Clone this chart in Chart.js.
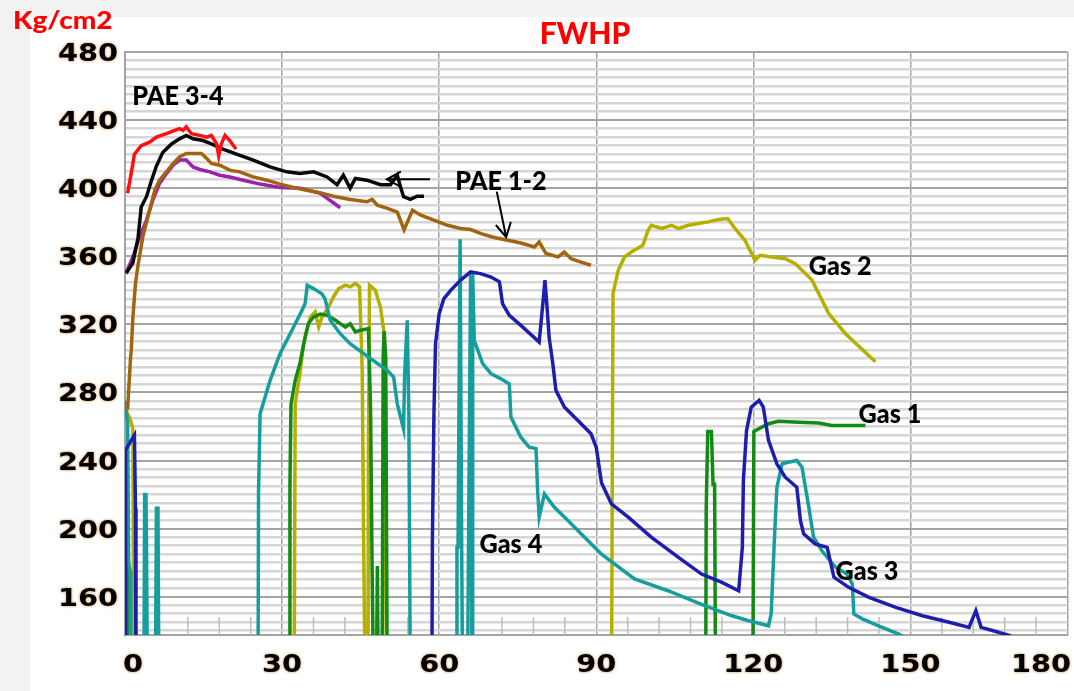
<!DOCTYPE html>
<html>
<head>
<meta charset="utf-8">
<script src="https://cdn.jsdelivr.net/npm/chart.js@4.4.0/dist/chart.umd.min.js"></script>
<style>
  html, body { margin: 0; padding: 0; background: #f2f2f2; }
  #wrap { width: 1074px; height: 691px; }
</style>
</head>
<body>
<div id="wrap"><canvas id="fwhp" width="1074" height="691"></canvas></div>
<script>
// FWHP vs time
const xTicks = [0, 30, 60, 90, 120, 150, 180];
const yTicks = [160, 200, 240, 280, 320, 360, 400, 440, 480];
const yMinorStep = 5;
const xMinorStep = 6;

// PAE wells
const pae34Red = [[0.5,397],[1.2,409],[1.8,420],[3.1,425],[4.7,427],[6,430],[7.9,432],[9.5,434],[10.4,435],[11.1,434],[11.7,436],[12.7,432],[14.3,431],[15.6,430],[16.5,431],[17.5,426],[17.9,419],[18.4,426],[19.1,431],[20,428],[21.2,423]];
const pae34Black = [[0.2,350],[1.5,356],[2.5,371],[3.1,389],[4.1,395],[5,404],[6,413],[7.2,421],[8.9,426],[10.4,429],[11.7,431],[13,429],[14.9,428],[16.5,426],[18.7,423],[21.3,420],[24.5,416.5],[27.7,412.5],[30.9,409.6],[33.4,408.6],[36,409.6],[38.6,406.6],[40.5,402],[41.7,407.6],[43,400],[44,405.7],[46.2,404.7],[48.8,402],[50.7,402],[52,407.6],[52.6,401],[53.2,395],[54.5,393.4],[55.8,395.3],[57.1,395.3]];
const pae12Brown = [[0.5,270],[1.05,300],[1.2,305],[1.5,324],[2,344],[2.5,355],[3.4,371.4],[4.7,387],[5.7,398.8],[6.6,404.7],[7.9,409.6],[9.2,414.5],[10.4,418.4],[11.7,420.4],[14.6,420.4],[15.6,417.5],[16.5,414.5],[18.1,413.5],[20,410.6],[21.9,409.6],[24.5,406.6],[27.1,404.7],[29.6,402.4],[32.2,400.4],[34.7,398.8],[36.6,397.8],[39.8,395.3],[43,393.4],[46.2,392],[47.2,393.4],[48.2,390],[50.1,388.1],[52,386],[53.3,375.5],[54.9,387],[56.5,384.1],[59,381.2],[61.6,378.2],[64.1,376.3],[66,375.7],[68,373.3],[70.5,371],[73.1,369.4],[75.6,367.8],[78.2,365.5],[79.1,368.4],[80.4,361.6],[82.7,359.6],[83.9,362.5],[85.2,358.6],[87.1,356.6],[89,354.7]];
const pae12Purple = [[0.2,350],[1.5,359.6],[2.8,371.4],[4.1,381.2],[5.3,392.9],[6.6,402.8],[7.9,408.6],[9.2,413.5],[10.4,416.5],[11.7,416.5],[13,412.5],[14.3,411],[16.2,409.6],[18.1,407.6],[20,406.6],[22.6,404.7],[25.8,402.4],[29.6,400.4],[33.4,400],[37.3,397],[41.1,388.5]];

// gas wells (100 = shut in, below the axis)
const gas1 = [[0,226],[0.4,222],[0.5,100],
  [31.4,100],[31.5,226],[31.7,273],[32.5,287],[33.4,297],[34.4,312.5],[35,320.4],[36,324.3],[37.3,326],[38.6,325.3],[40.2,322.4],[41.1,320.4],[42.1,318.4],[43,320.4],[44,315.5],[45,316.5],[46.5,317.5],[46.9,269.4],[47.2,175.3],[47.5,100],
  [48,100],[48.2,178],[48.4,100],
  [49.1,100],[49.3,300],[49.5,316],[49.8,300],[50.1,100],
  [110.9,100],[111,212],[111.3,257],[112,257],[112.3,226],[112.6,226],[112.8,100],
  [119.9,100],[120.1,257],[121,258.6],[122.9,261.6],[124.8,263],[128.7,262.5],[132.5,262],[135,260.6],[141.4,260.6]];
const gas2 = [[0,275],[0.4,268],[0.9,265],[1.5,259],[1.7,100],
  [32.3,100],[32.5,273],[33.5,293],[34.1,308.6],[35.4,324.3],[36.3,327.3],[37,318.4],[37.6,324.3],[38.9,330.2],[39.8,336.1],[40.8,341],[42.1,343],[43,342],[44,344],[44.8,342],[45.3,293],[45.6,185],[45.9,100],
  [46.4,100],[46.5,250],[46.7,343],[47.8,340],[48.8,330],[49.4,316.5],[49.5,273],[49.7,214.5],[50,100],
  [92.9,100],[93.2,338],[94.2,351.8],[95.4,359.6],[96.7,362.5],[98.9,366.5],[99.9,375.3],[100.5,378.2],[102.5,376.3],[104.4,378.2],[105.7,376.3],[107.6,378.2],[109.5,379.2],[111.4,380.2],[113.3,381.6],[115.1,382.2],[116.5,376.3],[118.4,369.4],[120.3,357.6],[121.3,360.6],[123.5,359.6],[126.1,358.6],[128,355.7],[131.2,346],[132.5,338],[134.4,326.3],[137.6,314.5],[143.3,298]];
const gas3 = [[0,100],[0.1,246],[1.2,252],[1.8,255],[2,212],[2.1,100],
  [58.6,100],[58.7,191],[59,267.5],[59.3,308.6],[60,326.3],[60.9,335.1],[62.2,340],[64.1,346],[66,350.8],[67.9,349.8],[69.9,347.8],[71.5,345],[72.1,332.2],[73.4,325.3],[75.6,319.4],[79.1,309.6],[79.8,332.2],[80.2,346],[80.6,330.2],[81,312.5],[81.7,297],[82.3,281.2],[83.9,271.4],[86.5,263.5],[89,255.7],[90,247.8],[91,227],[92.9,214.5],[96.1,206.7],[100.5,195],[105.7,183.1],[110.1,173.3],[114,168.4],[117.2,163.5],[117.9,189],[118.1,228.2],[118.7,257.6],[119.6,271.4],[121.1,275.3],[121.9,271.4],[122.9,251.8],[124.5,238],[126.1,230.2],[128.3,224.3],[129,204.7],[129.6,197],[131.8,191],[134.1,189],[135.4,171.4],[138.2,165.5],[142.1,159.6],[147.2,153.7],[152.3,148.8],[157.4,145],[161.2,142],[162.5,151.8],[163.5,142],[165.8,140],[169.2,137]];
const gas4 = [[0,275],[0.5,262],[0.7,180],[1,175],[1.1,100],
  [3.6,100],[3.75,220],[4,220],[4.1,193],[4.3,100],
  [5.8,100],[6,212],[6.3,212],[6.35,177],[6.5,100],
  [25.4,100],[25.5,221],[25.8,267.5],[27.7,287],[29.6,302.8],[30.9,310.6],[32.2,318.4],[33.8,328.2],[34.4,332.2],[34.8,343],[36,341],[37.6,338],[38.2,335],[39.2,322.4],[41.1,314.5],[43,308.6],[45.6,302.8],[48.2,297],[50.1,293],[51.3,289],[52,273.3],[53.2,258.6],[53.4,290],[53.9,322.4],[54.2,269.4],[54.4,161.6],[54.5,100],
  [63.3,100],[63.4,189],[63.6,189],[64,370],[64.3,189],[64.5,100],
  [65.4,100],[65.6,189],[66,350],[66.3,100],[66.4,350],[66.7,310.6],[68.3,297],[69.9,291],[71.8,288],[73.4,285],[73.7,265.5],[75.6,253.7],[77.2,247.8],[78.5,247],[78.8,222.4],[79.1,206.7],[80.1,220.4],[82,212.5],[84.6,204.7],[87.1,197],[91,185],[97.3,170.4],[103.7,163.5],[110.1,155.5],[115.9,148.8],[119.1,145.9],[122.9,142.9],[123.4,149.8],[124.1,198.8],[124.5,224.3],[125.5,238],[126.7,239],[128.3,240],[129.3,236.1],[130.6,212.5],[131.5,195],[133.1,187],[135.7,177.3],[137.9,173.3],[138.9,167.5],[139.2,149.8],[140.8,147],[144.6,142],[147.8,138],[150,134]];

const notes = [
  { text: 'PAE 3-4', x: 10.1, y: 453.6 },
  { text: 'PAE 1-2', x: 71.8, y: 403.6 },
  { text: 'Gas 2', x: 136.6, y: 353.7 },
  { text: 'Gas 1', x: 146.1, y: 266.8 },
  { text: 'Gas 4', x: 73.7, y: 190.4 },
  { text: 'Gas 3', x: 141.7, y: 174.6 }
];
const arrows = [
  [58.25, 405.2, 50, 405.2],
  [71, 398, 72.8, 371.2]
];

const yGrid = [];
for (let v = 140; v <= 480; v += yMinorStep) yGrid.push(v);

function line(data, color, width) {
  return {
    data: data.map(p => ({ x: p[0], y: p[1] })),
    borderColor: color,
    borderWidth: width || 3.5,
    pointRadius: 0,
    tension: 0,
    fill: false
  };
}

function wideText(c, txt, x, y, sx, align) {
  c.save();
  c.translate(x, y);
  c.scale(sx, 1);
  c.textAlign = align || 'left';
  c.fillText(txt, 0, 0);
  c.restore();
}

function drawArrow(c, x1, y1, x2, y2) {
  const a = Math.atan2(y2 - y1, x2 - x1), h = 16;
  c.beginPath();
  c.moveTo(x1, y1);
  c.lineTo(x2, y2);
  c.moveTo(x2 - h * Math.cos(a - 0.5), y2 - h * Math.sin(a - 0.5));
  c.lineTo(x2, y2);
  c.lineTo(x2 - h * Math.cos(a + 0.5), y2 - h * Math.sin(a + 0.5));
  c.stroke();
}

const decor = {
  id: 'decor',
  beforeDraw(chart) {
    const c = chart.ctx;
    c.save();
    c.fillStyle = '#f2f2f2';
    c.fillRect(0, 0, chart.width, chart.height);
    c.fillStyle = '#ffffff';
    c.fillRect(30, 17, chart.width - 30, chart.height - 17);
    c.restore();
  },
  beforeDatasetsDraw(chart) {
    // short minor ticks along the bottom
    const c = chart.ctx, xs = chart.scales.x, bottom = chart.chartArea.bottom;
    c.save();
    c.strokeStyle = '#bdbdbd';
    c.lineWidth = 1.5;
    for (let v = xMinorStep; v < 180; v += xMinorStep) {
      if (v % 30 === 0) continue;
      const px = xs.getPixelForValue(v);
      c.beginPath();
      c.moveTo(px, bottom);
      c.lineTo(px, bottom - 18);
      c.stroke();
    }
    c.restore();
  },
  afterDatasetsDraw(chart) {
    const c = chart.ctx, xs = chart.scales.x, ys = chart.scales.y;
    c.save();
    c.fillStyle = '#000';
    c.font = '900 26px Lato';
    c.textBaseline = 'middle';
    notes.forEach(n => wideText(c, n.text, xs.getPixelForValue(n.x), ys.getPixelForValue(n.y), 0.97, 'center'));
    c.strokeStyle = '#000';
    c.lineWidth = 2;
    arrows.forEach(a => drawArrow(c, xs.getPixelForValue(a[0]), ys.getPixelForValue(a[1]),
      xs.getPixelForValue(a[2]), ys.getPixelForValue(a[3])));
    c.restore();
  },
  afterDraw(chart) {
    const c = chart.ctx, xs = chart.scales.x, ys = chart.scales.y;
    c.save();
    c.fillStyle = '#000';
    c.font = 'bold 24px "DejaVu Sans"';
    c.shadowColor = 'rgba(190,115,20,0.85)';
    c.shadowBlur = 3;
    yTicks.forEach(v => wideText(c, String(v), 118, ys.getPixelForValue(v) + 9, 1.2, 'right'));
    xTicks.forEach(v => {
      const w = c.measureText(String(v)).width * 1.2;
      let cx = xs.getPixelForValue(v);
      cx = Math.max(cx, 123 + w / 2);
      cx = Math.min(cx, 1071 - w / 2);
      wideText(c, String(v), cx, 672, 1.2, 'center');
    });
    c.shadowBlur = 0;
    c.shadowColor = 'transparent';
    c.fillStyle = '#ff0000';
    c.font = '900 25px Lato';
    wideText(c, 'Kg/cm2', 13, 29, 1.12, 'left');
    c.font = '900 30px Lato';
    wideText(c, 'FWHP', 585, 44, 1.0, 'center');
    c.restore();
  }
};

new Chart(document.getElementById('fwhp'), {
  type: 'line',
  data: {
    datasets: [
      line(pae34Red, '#ff1010'),
      line(pae34Black, '#0a0a0a'),
      line(pae12Brown, '#a2650f'),
      line(pae12Purple, '#9c22ae'),
      line(gas3, '#1e1eae'),
      line(gas4, '#169e9e'),
      line(gas1, '#138a13'),
      line(gas2, '#b5b000')
    ]
  },
  options: {
    responsive: false,
    animation: false,
    layout: { padding: { left: 125, right: 6.5, top: 52, bottom: 56 } },
    plugins: { legend: { display: false }, tooltip: { enabled: false }, title: { display: false } },
    scales: {
      x: {
        type: 'linear',
        min: 0,
        max: 180,
        afterBuildTicks: ax => { ax.ticks = xTicks.map(v => ({ value: v })); },
        ticks: { display: false },
        grid: { color: '#a4a4a4', lineWidth: 1.5, drawTicks: false },
        border: { color: '#a4a4a4', width: 2 }
      },
      y: {
        type: 'linear',
        min: 137.5,
        max: 480,
        afterBuildTicks: ax => { ax.ticks = yGrid.map(v => ({ value: v })); },
        ticks: { display: false },
        grid: {
          color: ctx => (ctx.tick && ctx.tick.value % 40 === 0) ? '#a4a4a4' : '#d6d6d6',
          lineWidth: ctx => (ctx.tick && ctx.tick.value % 40 === 0) ? 2 : 2.5,
          drawTicks: false
        },
        border: { color: '#a4a4a4', width: 2 }
      }
    }
  },
  plugins: [decor]
});
</script>
</body>
</html>
